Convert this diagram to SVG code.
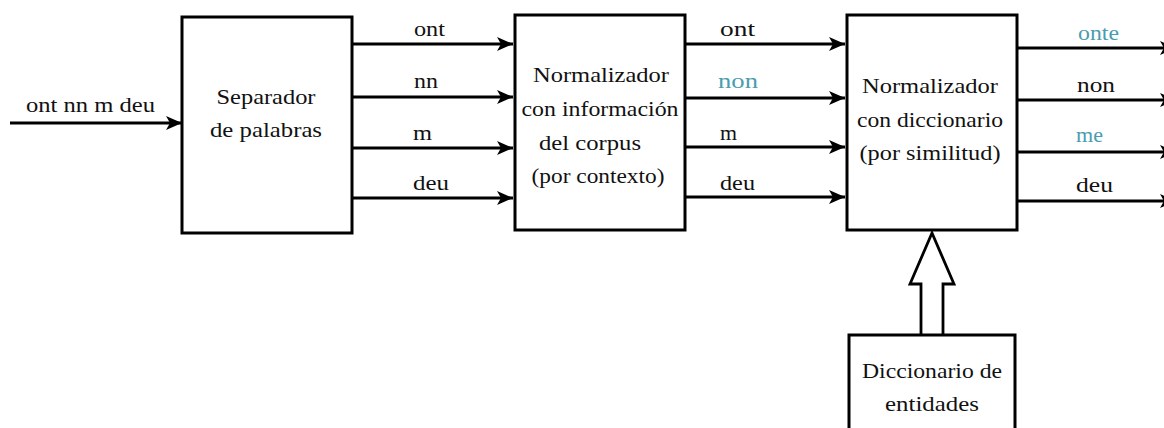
<svg xmlns="http://www.w3.org/2000/svg" width="1164" height="428" viewBox="0 0 1164 428" font-family="'Liberation Serif', 'Times New Roman', serif">
<defs>
<marker id="ah" markerUnits="userSpaceOnUse" markerWidth="18" markerHeight="14" refX="16" refY="7" orient="auto">
<path d="M0,0 L16,7 L0,14 L4,7 Z" fill="#000"/>
</marker>
<style>
.box{fill:#fff;stroke:#000;stroke-width:3}
.ln{stroke:#000;stroke-width:2.8;fill:none;marker-end:url(#ah)}
text{font-family:'Liberation Serif','Times New Roman',serif;font-size:22px;fill:#111}
.c{text-anchor:middle}
.t{fill:#4a9cb0}
</style>
</defs>
<rect width="1164" height="428" fill="#fff"/>
<g id="connectors">
<path class="ln" d="M10,123 H182"/>
<path class="ln" d="M352,44 H513"/>
<path class="ln" d="M352,97 H513"/>
<path class="ln" d="M352,148 H513"/>
<path class="ln" d="M352,198 H513"/>
<path class="ln" d="M685,44 H845"/>
<path class="ln" d="M685,98 H845"/>
<path class="ln" d="M685,147 H845"/>
<path class="ln" d="M685,197 H845"/>
<path class="ln" d="M1017,48 H1176"/>
<path class="ln" d="M1017,100 H1176"/>
<path class="ln" d="M1017,152 H1176"/>
<path class="ln" d="M1017,201 H1176"/>
<path d="M921,335 V284 H910 L932,233 L954,284 H943 V335" fill="#fff" stroke="#000" stroke-width="2.8" stroke-linejoin="miter"/>
<text x="26" y="112" textLength="129" lengthAdjust="spacingAndGlyphs">ont nn m deu</text>
<text x="414" y="36" textLength="31" lengthAdjust="spacingAndGlyphs">ont</text>
<text x="414" y="88" textLength="24" lengthAdjust="spacingAndGlyphs">nn</text>
<text x="413" y="140" textLength="19" lengthAdjust="spacingAndGlyphs">m</text>
<text x="413" y="190" textLength="36" lengthAdjust="spacingAndGlyphs">deu</text>
<text x="720" y="36" textLength="35" lengthAdjust="spacingAndGlyphs">ont</text>
<text x="718" y="88" class="t" textLength="40" lengthAdjust="spacingAndGlyphs">non</text>
<text x="720" y="140" textLength="17" lengthAdjust="spacingAndGlyphs">m</text>
<text x="720" y="190" textLength="35" lengthAdjust="spacingAndGlyphs">deu</text>
<text x="1078" y="40" class="t" textLength="41" lengthAdjust="spacingAndGlyphs">onte</text>
<text x="1077" y="92" textLength="38" lengthAdjust="spacingAndGlyphs">non</text>
<text x="1076" y="142" class="t" textLength="27" lengthAdjust="spacingAndGlyphs">me</text>
<text x="1076" y="192" textLength="37" lengthAdjust="spacingAndGlyphs">deu</text>
</g>
<g id="separador">
<rect class="box" x="182" y="17" width="170" height="216"/>
<text class="c" x="266" y="104" textLength="99" lengthAdjust="spacingAndGlyphs">Separador</text>
<text class="c" x="266" y="137" textLength="112" lengthAdjust="spacingAndGlyphs">de palabras</text>
</g>
<g id="normalizador-corpus">
<rect class="box" x="515" y="15" width="170" height="215"/>
<text class="c" x="601" y="82" textLength="136" lengthAdjust="spacingAndGlyphs">Normalizador</text>
<text class="c" x="600" y="116" textLength="157" lengthAdjust="spacingAndGlyphs">con información</text>
<text class="c" x="590" y="150" textLength="102" lengthAdjust="spacingAndGlyphs">del corpus</text>
<text class="c" x="598" y="183" textLength="133" lengthAdjust="spacingAndGlyphs">(por contexto)</text>
</g>
<g id="normalizador-diccionario">
<rect class="box" x="847" y="15" width="170" height="215"/>
<text class="c" x="930" y="93" textLength="136" lengthAdjust="spacingAndGlyphs">Normalizador</text>
<text class="c" x="930" y="127" textLength="146" lengthAdjust="spacingAndGlyphs">con diccionario</text>
<text class="c" x="930" y="160" textLength="141" lengthAdjust="spacingAndGlyphs">(por similitud)</text>
</g>
<g id="diccionario-entidades">
<rect class="box" x="849" y="335" width="166" height="100"/>
<text class="c" x="932" y="378" textLength="140" lengthAdjust="spacingAndGlyphs">Diccionario de</text>
<text class="c" x="932" y="411" textLength="94" lengthAdjust="spacingAndGlyphs">entidades</text>
</g>
</svg>
